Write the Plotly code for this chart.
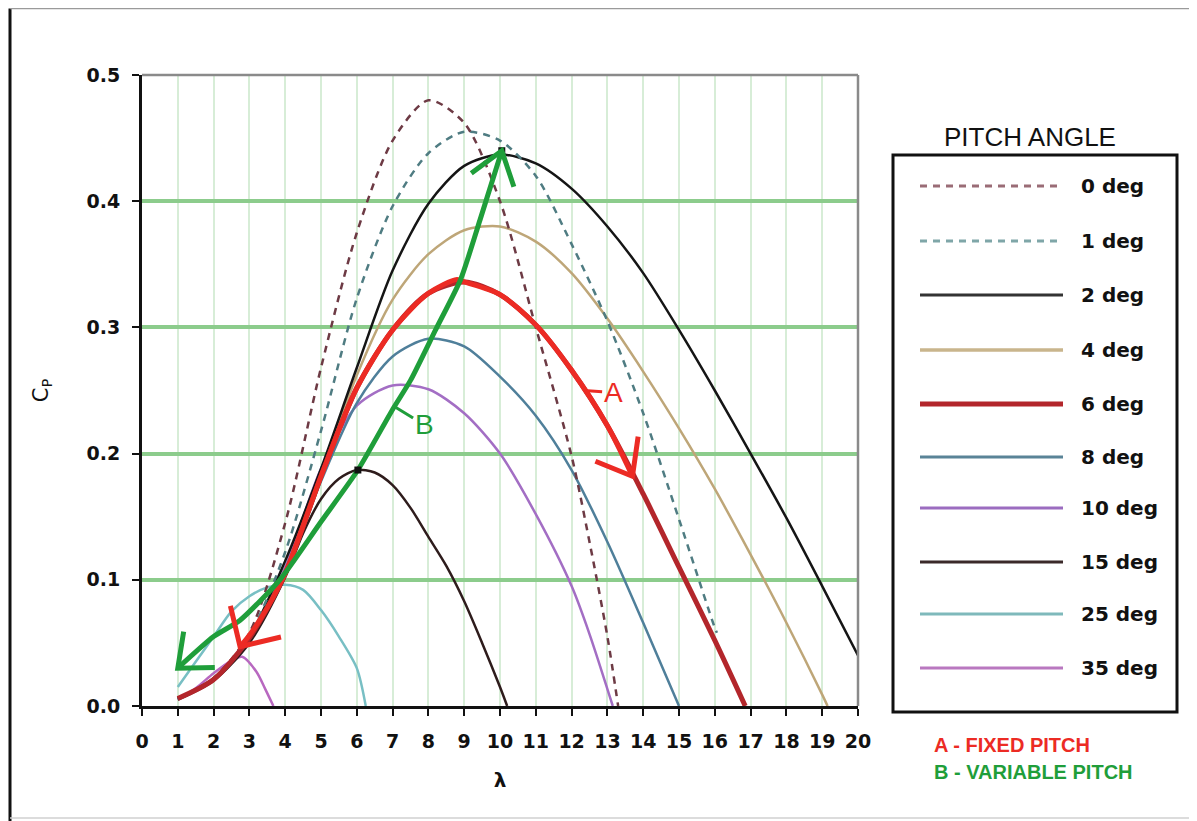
import math
import plotly.graph_objects as go

# ---------------- data ----------------
lam_0 = [1, 2, 3, 4, 5, 6, 7, 8, 9, 10, 11, 12, 12.5, 13, 13.3]
cp_0 = [0.006, 0.022, 0.058, 0.145, 0.268, 0.375, 0.448, 0.48, 0.462, 0.40, 0.30, 0.198, 0.13, 0.055, 0.0]

lam_1 = [1, 2, 3, 4, 5, 6, 7, 8, 9, 10, 11, 12, 13, 14, 15, 16, 16.06]
cp_1 = [0.006, 0.022, 0.056, 0.122, 0.218, 0.323, 0.396, 0.438, 0.455, 0.448, 0.42, 0.366, 0.305, 0.232, 0.148, 0.062, 0.058]

lam_2 = [1, 2, 3, 4, 5, 6, 7, 8, 9, 10, 11, 12, 13, 14, 15, 16, 17, 18, 19, 20]
cp_2 = [0.006, 0.022, 0.055, 0.115, 0.188, 0.268, 0.345, 0.398, 0.428, 0.437, 0.43, 0.41, 0.38, 0.343, 0.298, 0.25, 0.2, 0.149, 0.095, 0.04]

lam_4 = [1, 2, 3, 4, 5, 6, 7, 8, 9, 10, 11, 12, 13, 14, 15, 16, 17, 18, 19, 19.15]
cp_4 = [0.006, 0.021, 0.054, 0.105, 0.183, 0.262, 0.322, 0.358, 0.377, 0.38, 0.368, 0.343, 0.307, 0.265, 0.22, 0.172, 0.12, 0.066, 0.009, 0.0]

lam_6 = [1, 2, 3, 4, 5, 6, 7, 8, 9, 10, 11, 12, 13, 14, 15, 16, 16.85]
cp_6 = [0.006, 0.021, 0.054, 0.105, 0.182, 0.252, 0.298, 0.327, 0.336, 0.326, 0.302, 0.266, 0.222, 0.168, 0.11, 0.052, 0.0]

lam_8 = [1, 2, 3, 4, 5, 6, 7, 8, 9, 10, 11, 12, 13, 14, 15]
cp_8 = [0.006, 0.021, 0.054, 0.105, 0.178, 0.24, 0.277, 0.291, 0.285, 0.261, 0.23, 0.187, 0.13, 0.066, 0.0]

lam_10 = [1, 2, 3, 4, 5, 6, 7, 8, 9, 10, 11, 12, 12.5, 13.15]
cp_10 = [0.006, 0.021, 0.053, 0.11, 0.188, 0.238, 0.254, 0.251, 0.232, 0.2, 0.152, 0.095, 0.057, 0.0]

lam_15 = [1, 2, 3, 4, 4.5, 5, 5.5, 6, 6.5, 7, 7.5, 8, 8.5, 9, 9.5, 10, 10.2]
cp_15 = [0.005, 0.02, 0.05, 0.102, 0.137, 0.164, 0.18, 0.187, 0.185, 0.175, 0.157, 0.134, 0.111, 0.083, 0.05, 0.015, 0.0]

lam_25 = [1, 1.5, 2, 2.5, 3, 3.5, 4, 4.5, 5, 5.5, 6, 6.25]
cp_25 = [0.015, 0.035, 0.055, 0.075, 0.087, 0.094, 0.096, 0.092, 0.076, 0.055, 0.03, 0.0]

lam_35 = [1, 1.5, 2, 2.5, 2.8, 3.2, 3.45, 3.67]
cp_35 = [0.005, 0.014, 0.026, 0.036, 0.039, 0.027, 0.013, 0.0]

# A: fixed-pitch operating path, B: variable-pitch path
path_a_lam = [2.74, 3, 3.5, 4, 5, 6, 7, 8, 8.8, 9, 10, 11, 12, 13, 13.7]
path_a_cp = [0.047, 0.056, 0.078, 0.105, 0.182, 0.252, 0.298, 0.327, 0.338, 0.336, 0.326, 0.302, 0.266, 0.222, 0.182]
path_b_lam = [1.0, 2.0, 2.74, 3.85, 5.0, 6.03, 7.0, 7.5, 8.2, 8.9, 9.44, 10.05]
path_b_cp = [0.03, 0.055, 0.068, 0.1, 0.146, 0.187, 0.235, 0.258, 0.298, 0.338, 0.385, 0.44]

peak_lam = [6.03, 10.05]
peak_cp = [0.187, 0.44]

x_ticks = list(range(0, 21))
y_ticks = [0.0, 0.1, 0.2, 0.3, 0.4, 0.5]
legend_labels = ["0 deg", "1 deg", "2 deg", "4 deg", "6 deg", "8 deg", "10 deg", "15 deg", "25 deg", "35 deg"]

# ---------------- styles ----------------
series = [
    (legend_labels[9], lam_35, cp_35, "#b868c0", 2.5, "solid"),
    (legend_labels[8], lam_25, cp_25, "#78bfc4", 2.5, "solid"),
    (legend_labels[7], lam_15, cp_15, "#2e1c1c", 2.5, "solid"),
    (legend_labels[6], lam_10, cp_10, "#a36ec4", 2.5, "solid"),
    (legend_labels[5], lam_8, cp_8, "#4f7f9a", 2.5, "solid"),
    (legend_labels[3], lam_4, cp_4, "#bea678", 2.5, "solid"),
    (legend_labels[2], lam_2, cp_2, "#151515", 2.5, "solid"),
    (legend_labels[1], lam_1, cp_1, "#4f7c82", 2.5, "7px,6px"),
    (legend_labels[0], lam_0, cp_0, "#6d3a44", 2.5, "7px,6px"),
    (legend_labels[4], lam_6, cp_6, "#b3262b", 5, "solid"),
]
legend_style = {
    "0 deg": ("#9a6c76", 3, "7px,6px"),
    "1 deg": ("#7fa6a8", 3, "7px,6px"),
    "2 deg": ("#333333", 3, "solid"),
    "4 deg": ("#c9b58c", 3.5, "solid"),
    "6 deg": ("#b3262b", 5, "solid"),
    "8 deg": ("#5a8497", 3, "solid"),
    "10 deg": ("#9b6cc0", 3, "solid"),
    "15 deg": ("#3b2a2a", 3, "solid"),
    "25 deg": ("#7fb9bb", 3, "solid"),
    "35 deg": ("#b978c0", 3, "solid"),
}
RED = "#ec2b24"
GREEN = "#1f9e3a"

# the page adds an 8px body margin, so the figure is 8px smaller and shifted
OFF = 8
W, H = 1197 - OFF, 821 - OFF
L, R, T, B = 142 - OFF, 858 - OFF, 75 - OFF, 706 - OFF
SX = (R - L) / 20.0
SY = (B - T) / 0.5


def xp(px):  # reference-picture pixel -> paper fraction
    return (px - OFF - L) / (R - L)


def yp(py):
    return (B - (py - OFF)) / (B - T)


fig = go.Figure()

for name, xs, ys, col, wd, dash in series:
    fig.add_trace(go.Scatter(x=xs, y=ys, mode="lines", name=name,
                             line=dict(color=col, width=wd, dash=dash, shape="spline", smoothing=0.8),
                             showlegend=False, hoverinfo="skip"))

fig.add_trace(go.Scatter(x=path_a_lam, y=path_a_cp, mode="lines", name="A - FIXED PITCH",
                         line=dict(color=RED, width=5, shape="spline", smoothing=0.8),
                         showlegend=False, hoverinfo="skip"))
fig.add_trace(go.Scatter(x=path_b_lam, y=path_b_cp, mode="lines", name="B - VARIABLE PITCH",
                         line=dict(color=GREEN, width=5, shape="spline", smoothing=0.6),
                         showlegend=False, hoverinfo="skip"))
fig.add_trace(go.Scatter(x=peak_lam, y=peak_cp, mode="markers",
                         marker=dict(color="#111111", size=7, symbol="square"),
                         showlegend=False, hoverinfo="skip"))


def arrow_head(tip_x, tip_y, from_x, from_y, color, length=40, half=40):
    """Open V arrowhead at the end of a path, built in pixel space."""
    dx = (from_x - tip_x) * SX
    dy = (from_y - tip_y) * SY
    ang = math.atan2(dy, dx)
    xs, ys = [], []
    for s in (-1, 1):
        a = ang + s * math.radians(half)
        xs.append(tip_x + length * math.cos(a) / SX)
        ys.append(tip_y + length * math.sin(a) / SY)
    fig.add_trace(go.Scatter(x=[xs[0], tip_x, xs[1]], y=[ys[0], tip_y, ys[1]], mode="lines",
                             line=dict(color=color, width=5), showlegend=False, hoverinfo="skip"))


arrow_head(path_a_lam[0], path_a_cp[0], path_a_lam[3], path_a_cp[3], RED, 42, 45)
arrow_head(path_a_lam[-1], path_a_cp[-1], path_a_lam[-3], path_a_cp[-3], RED, 40, 38)
arrow_head(path_b_lam[0], path_b_cp[0], path_b_lam[3], path_b_cp[3], GREEN, 37, 40)
arrow_head(path_b_lam[-1], path_b_cp[-1], path_b_lam[-2], path_b_cp[-2], GREEN, 38, 36)

annotations = []
# path labels with short leaders
annotations.append(dict(x=12.35, y=0.25, xref="x", yref="y", text="A", ax=29, ay=2,
                        showarrow=True, arrowhead=0, arrowwidth=3, arrowcolor=RED, standoff=0,
                        font=dict(family="Liberation Sans", size=28, color=RED)))
annotations.append(dict(x=7.07, y=0.237, xref="x", yref="y", text="B", ax=29, ay=18,
                        showarrow=True, arrowhead=0, arrowwidth=3, arrowcolor=GREEN, standoff=0,
                        font=dict(family="Liberation Sans", size=28, color=GREEN)))

# custom legend (title sits above the box)
shapes = []
shapes.append(dict(type="rect", xref="paper", yref="paper", x0=xp(893), x1=xp(1177), y0=yp(712), y1=yp(155),
                   line=dict(color="#111111", width=3), fillcolor="white", layer="above"))
row_y = [186, 241, 295, 350, 404, 457, 508, 562, 614, 668]
for lab, ry in zip(legend_labels, row_y):
    col, wd, dash = legend_style[lab]
    shapes.append(dict(type="line", xref="paper", yref="paper", x0=xp(920), x1=xp(1063), y0=yp(ry), y1=yp(ry),
                       line=dict(color=col, width=wd, dash=dash), layer="above"))
    annotations.append(dict(x=xp(1079), y=yp(ry), xref="paper", yref="paper", text="<b>" + lab + "</b>",
                            showarrow=False, xanchor="left", yanchor="middle",
                            font=dict(family="DejaVu Sans", size=20, color="#111111")))
annotations.append(dict(x=xp(1030), y=yp(137), xref="paper", yref="paper", text="PITCH ANGLE", showarrow=False,
                        xanchor="center", yanchor="middle",
                        font=dict(family="Liberation Sans", size=26, color="#111111")))
annotations.append(dict(x=xp(932), y=yp(745), xref="paper", yref="paper", text="<b>A - FIXED PITCH</b>",
                        showarrow=False, xanchor="left", yanchor="middle",
                        font=dict(family="Liberation Sans", size=20, color=RED)))
annotations.append(dict(x=xp(932), y=yp(772), xref="paper", yref="paper", text="<b>B - VARIABLE PITCH</b>",
                        showarrow=False, xanchor="left", yanchor="middle",
                        font=dict(family="Liberation Sans", size=20, color=GREEN)))

# plot borders (top / right in grey) and page frame
shapes.append(dict(type="line", xref="paper", yref="paper", x0=0, x1=1, y0=1, y1=1,
                   line=dict(color="#8a8a8a", width=2.5), layer="above"))
shapes.append(dict(type="line", xref="paper", yref="paper", x0=1, x1=1, y0=0, y1=1,
                   line=dict(color="#8a8a8a", width=2.5), layer="above"))
shapes.append(dict(type="line", xref="paper", yref="paper", x0=xp(10), x1=xp(10), y0=yp(821), y1=yp(8.5),
                   line=dict(color="#111111", width=3), layer="above"))
shapes.append(dict(type="line", xref="paper", yref="paper", x0=xp(10), x1=xp(1197), y0=yp(8.5), y1=yp(8.5),
                   line=dict(color="#9a9a9a", width=1.5), layer="above"))
shapes.append(dict(type="line", xref="paper", yref="paper", x0=xp(1194), x1=xp(1194), y0=yp(818), y1=yp(8.5),
                   line=dict(color="#b0b0b0", width=1.5), layer="above"))
shapes.append(dict(type="line", xref="paper", yref="paper", x0=xp(10), x1=xp(1197), y0=yp(818), y1=yp(818),
                   line=dict(color="#d0d0d0", width=1.5), layer="above"))

tick_font = dict(family="DejaVu Sans", size=19, color="#111111", weight="bold")
fig.update_layout(
    width=W, height=H,
    margin=dict(l=L, r=W - R, t=T, b=H - B),
    paper_bgcolor="white", plot_bgcolor="white",
    showlegend=False,
    shapes=shapes, annotations=annotations,
    xaxis=dict(range=[0, 20], tickmode="array", tickvals=x_ticks, ticktext=[str(v) for v in x_ticks],
               showgrid=True, gridcolor="#d7edd7", gridwidth=2,
               showline=True, linecolor="#111111", linewidth=3,
               ticks="outside", ticklen=7, tickwidth=2, tickcolor="#111111",
               tickfont=tick_font, ticklabelstandoff=9, zeroline=False,
               title=dict(text="<b>λ</b>", font=dict(family="DejaVu Sans", size=20, color="#111111"), standoff=23)),
    yaxis=dict(range=[0, 0.5], tickmode="array", tickvals=y_ticks, ticktext=[f"{v:.1f}" for v in y_ticks],
               showgrid=True, gridcolor="#8ccc8c", gridwidth=3.5,
               showline=True, linecolor="#111111", linewidth=3,
               ticks="outside", ticklen=7, tickwidth=2, tickcolor="#111111",
               tickfont=tick_font, ticklabelstandoff=8, zeroline=False,
               title=dict(text="C<sub>P</sub>", font=dict(family="DejaVu Sans", size=21, color="#111111"), standoff=33)),
)

fig.write_html("out.html")
